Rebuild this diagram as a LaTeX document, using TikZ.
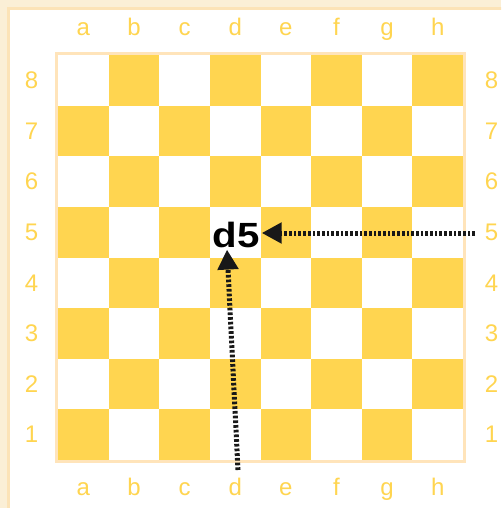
\documentclass[tikz,border=0pt]{standalone}
\usepackage{fontspec}
\setmainfont{Liberation Sans}
\usepackage{tikz}
\usetikzlibrary{arrows.meta, positioning}

\definecolor{boardyellow}{RGB}{255,213,80}
\definecolor{framecream}{RGB}{251,239,214}
\definecolor{frameline}{RGB}{252,227,183}
\definecolor{boardedge}{RGB}{255,228,186}
\definecolor{arrowblack}{RGB}{24,24,24}

\tikzset{
	square/.style={minimum size=50.625pt, inner sep=0pt, outer sep=0pt, draw=none},
	lightsq/.style={square, fill=white},
	darksq/.style={square, fill=boardyellow},
	coordlabel/.style={text=boardyellow, inner sep=0pt, font=\fontsize{24}{24}\selectfont},
	dotarrow/.style={draw=arrowblack, line width=5pt, dash pattern=on 2.7pt off 2pt,
		-{Triangle[length=20pt, width=20pt]}}
}

\begin{document}
\begin{tikzpicture}[x=1pt, y=-1pt]
	\useasboundingbox (0,0) rectangle (501,508);
	\clip (0,0) rectangle (501,508);
	% Frame:
	\fill[framecream] (0,0) rectangle (501,508);
	\draw[frameline, fill=white, line width=2.5pt] (8.5,8.5) rectangle (540,540);
	% Squares of the board:
	\foreach \c [count=\i] in {a,b,c,d,e,f,g,h}{
		\foreach \r in {1,...,8}{
			\pgfmathtruncatemacro\parity{mod(\i+\r,2)}
			\ifnum\parity=0 \def\sqkind{darksq}\else\def\sqkind{lightsq}\fi
			\node[\sqkind] (sq-\c\r) at ({58+(\i-0.5)*50.625}, {55+(8.5-\r)*50.625}){};
		}
	}
	\draw[boardedge, line width=3pt] ([shift={(-1.5,-1.5)}]sq-a8.north west) rectangle ([shift={(1.5,1.5)}]sq-h1.south east);
	% Letters and numbers round the board:
	\foreach \c [count=\i] in {a,b,c,d,e,f,g,h}{
		\node[coordlabel, anchor=base] (top-\c) at ({58+(\i-0.5)*50.625}, 36){\c};
		\node[coordlabel, anchor=base] (bot-\c) at ({58+(\i-0.5)*50.625}, 495){\c};
	}
	\foreach \r in {1,...,8}{
		\node[coordlabel] (left-\r) at (31.5, {55+(8.5-\r)*50.625}){\r};
		\node[coordlabel] (right-\r) at (491.5, {55+(8.5-\r)*50.625}){\r};
	}
	% Target square and arrows:
	\node[inner sep=2pt, font=\bfseries\fontsize{35}{35}\selectfont] (d5) at (236, 234.5){\scalebox{1.15}[1]{d5}};
	\coordinate (eastend) at (475, 233);
	\coordinate (southend) at (238, 470);
	\draw[dotarrow] (eastend) -- (d5.east |- eastend);
	\draw[dotarrow] (southend) -- ([xshift=-9pt]d5.south);
\end{tikzpicture}
\end{document}
